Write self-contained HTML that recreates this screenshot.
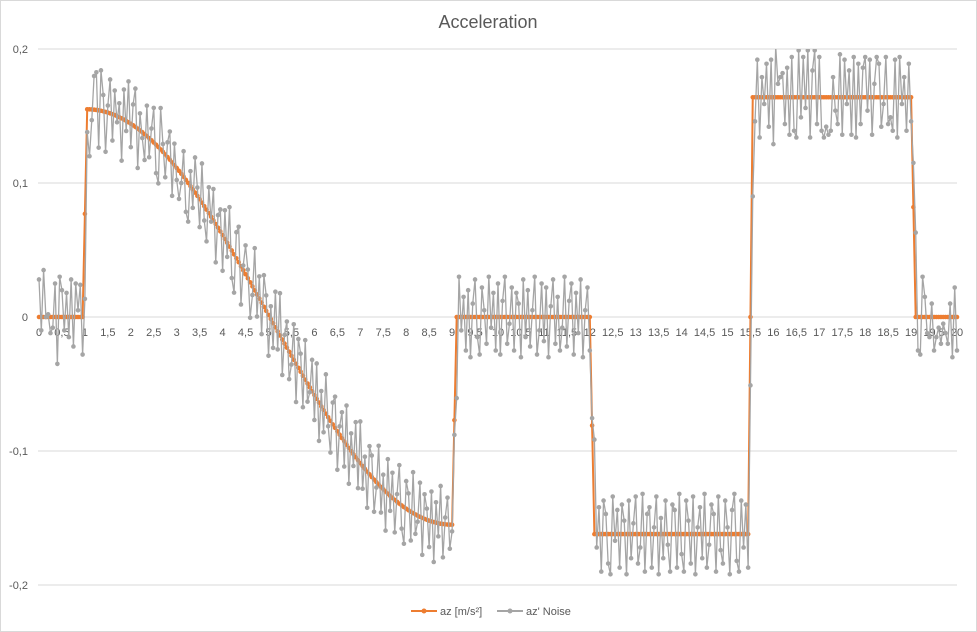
<!DOCTYPE html>
<html><head><meta charset="utf-8"><style>
html,body{margin:0;padding:0;background:#fff}
svg{display:block;font-family:"Liberation Sans",Arial,sans-serif}
</style></head><body>
<svg id="chart" width="977" height="632" viewBox="0 0 977 632" xmlns="http://www.w3.org/2000/svg">
<rect x="0.5" y="0.5" width="976" height="631" fill="#fff" stroke="#D9D9D9"/>
<text x="488" y="28" text-anchor="middle" font-size="18" fill="#595959">Acceleration</text>
<defs><clipPath id="pc"><rect x="30" y="49" width="935" height="536"/></clipPath></defs>
<g id="grid"></g>
<g id="ylabels"></g>
<g id="xlabels"></g>
<g id="series" clip-path="url(#pc)"></g>
<g>
  <g>
    <line x1="411" y1="611" x2="437" y2="611" stroke="#ED7D31" stroke-width="2"/>
    <circle cx="424" cy="611" r="2.5" fill="#ED7D31"/>
    <text x="440" y="615" font-size="11" fill="#595959">az [m/s²]</text>
  </g>
  <g>
    <line x1="497" y1="611" x2="523" y2="611" stroke="#A5A5A5" stroke-width="2"/>
    <circle cx="510" cy="611" r="2.5" fill="#A5A5A5"/>
    <text x="526" y="615" font-size="11" fill="#595959">az' Noise</text>
  </g>
</g>
</svg>
<script>
// ---- data ----
const yTicks = [0.2, 0.1, 0, -0.1, -0.2];
const yTickLabels = ["0,2", "0,1", "0", "-0,1", "-0,2"];
const xTickValues = [0,0.5,1,1.5,2,2.5,3,3.5,4,4.5,5,5.5,6,6.5,7,7.5,8,8.5,9,9.5,10,10.5,11,11.5,12,12.5,13,13.5,14,14.5,15,15.5,16,16.5,17,17.5,18,18.5,19,19.5,20];
const xTickLabels = ["0","0,5","1","1,5","2","2,5","3","3,5","4","4,5","5","5,5","6","6,5","7","7,5","8","8,5","9","9,5","10","10,5","11","11,5","12","12,5","13","13,5","14","14,5","15","15,5","16","16,5","17","17,5","18","18,5","19","19,5","20"];
const timeStep = 0.05;
const sampleCount = 401;
// az model: segment start times and levels (cosine segment uses amplitude)
const segStart = [0, 1, 1.05, 9.05, 9.1, 12.05, 12.1, 15.5, 15.55, 19.05, 19.1];
const segLevel = [0, 0.077, 0.155, -0.077, 0, -0.081, -0.162, 0, 0.164, 0.082, 0];
const segIsCosine = [false, false, true, false, false, false, false, false, false, false, false];
const cosineSpan = [1.05, 9.0];
// noise offsets (thousandths)
const noiseOffsets = [
28,-10,35,0,2,-12,-8,25,-35,30,20,-10,18,-15,28,-22,25,5,24,-28,
-25,22,-35,-8,25,28,-28,30,12,-30,5,25,-20,18,-5,10,-32,22,-8,30,
-18,15,28,-30,12,-5,-20,22,-15,8,25,-22,-28,30,5,-18,10,20,-26,15,
-10,-22,-8,18,-25,-30,10,-15,25,5,-22,28,-12,-25,18,-5,22,-30,8,15,
-28,20,-12,28,-22,-30,18,25,-30,2,20,5,-28,-8,30,-18,15,-25,22,10,
-32,8,-20,25,-15,30,-28,5,18,-22,-8,25,-30,20,12,-25,28,-15,-5,22,
-20,25,-30,10,-18,28,-8,-25,15,22,-30,5,18,-20,28,-28,12,-10,25,-22,
30,-18,8,-28,20,15,-25,-5,28,-20,10,-30,25,-12,18,-25,5,28,-18,-28,
20,12,-22,30,-15,-5,25,-28,18,8,-20,22,-30,15,-10,28,-25,5,20,-18,
-5,28,-22,30,-10,15,-25,20,-30,10,28,-15,-28,22,5,-20,30,-8,18,-25,
25,-28,12,30,-20,-5,22,-25,18,10,-30,28,-15,20,-22,5,30,-28,-10,25,
-18,22,-30,8,28,-20,15,-25,-8,30,-22,12,25,-28,18,-12,28,-30,5,22,
-25,-35,30,-10,20,-28,25,15,-22,-30,28,-5,18,-25,22,10,-30,25,-18,8,
28,-22,-10,30,-28,15,20,-25,5,28,-30,12,-18,25,-8,-28,22,18,-25,30,
-15,-28,25,10,-22,28,-30,5,20,-18,30,-25,-8,22,15,-28,28,-12,-22,25,
5,-30,18,30,-20,-28,25,-10,22,-25,30,8,-18,28,-30,15,-5,25,-22,28,
-35,38,10,15,18,-20,22,-28,30,-25,-30,35,-15,30,-8,35,-30,20,35,-20,
30,-25,-30,-22,-28,-25,15,-10,-20,32,-28,28,-5,20,-28,30,-30,25,-20,22,
30,-10,28,-28,10,30,25,-22,-5,30,-20,-15,-25,28,-30,30,-5,15,-25,25,
-18,-8,22,-25,-28,30,15,-12,-15,10,-25,-15,-8,-20,-5,-12,-20,10,-30,22,
-25,-30,-12,-25,22,-35,-2,-5,-28,20,32,-20,35,-33,-25,30,-18,-20,-5,
-22
];

// ---- scales ----
const X0 = 39, X1 = 957, Y0 = 317, YPX = 1340; // px per unit
const xs = t => X0 + (t / 20) * (X1 - X0);
const ys = v => Y0 - v * YPX;
const NS = "http://www.w3.org/2000/svg";
function mk(tag, attrs, parent){const e=document.createElementNS(NS,tag);for(const k in attrs)e.setAttribute(k,attrs[k]);parent.appendChild(e);return e;}

function azAt(t){
  let s = 0;
  for (let k = 0; k < segStart.length; k++) if (t >= segStart[k] - 1e-9) s = k;
  if (segIsCosine[s]) return segLevel[s] * Math.cos(Math.PI * (t - cosineSpan[0]) / (cosineSpan[1] - cosineSpan[0]));
  return segLevel[s];
}
const times = [], az = [], noise = [];
for (let i = 0; i < sampleCount; i++){
  const t = i * timeStep; times.push(t);
  az.push(azAt(t));
}
for (let i = 0; i < sampleCount; i++){
  const base = az[Math.max(0, i - 1)] * 0.5 + az[i] * 0.5;
  noise.push(base + (noiseOffsets[i] || 0) / 1000);
}

// ---- grid & labels ----
const grid = document.getElementById('grid');
yTicks.forEach((v,i)=>{
  const l = mk('line',{x1:X0-1,x2:X1,y1:ys(v),y2:ys(v),stroke:'#D9D9D9','stroke-width':1},grid);
  
  
  const tx = mk('text',{x:28,y:ys(v)+4,'text-anchor':'end','font-size':11,fill:'#595959'},document.getElementById('ylabels'));
  tx.textContent = yTickLabels[i];
  
  
});
xTickValues.forEach((v,i)=>{
  const tx = mk('text',{x:xs(v),y:ys(0)+19,'text-anchor':'middle','font-size':11,fill:'#595959'},document.getElementById('xlabels'));
  tx.textContent = xTickLabels[i];
  
  
});

// ---- series ----
const sg = document.getElementById('series');
function drawSeries(vals, color, w, name){
  const g = mk('g',{},sg);
  
  
  const d = vals.map((v,i)=>(i?'L':'M')+xs(times[i]).toFixed(2)+' '+ys(v).toFixed(2)).join(' ');
  const p = mk('path',{d:d,fill:'none',stroke:color,'stroke-width':w,'stroke-linejoin':'round'},g);
  
  
  vals.forEach((v,i)=>{
    const c = mk('circle',{cx:xs(times[i]).toFixed(2),cy:ys(v).toFixed(2),r:2.3,fill:color},g);
    
    
  });
}
drawSeries(az, '#ED7D31', 2, 'az-series');
drawSeries(noise, '#A5A5A5', 1.3, 'noise-series');
</script>
</body></html>
